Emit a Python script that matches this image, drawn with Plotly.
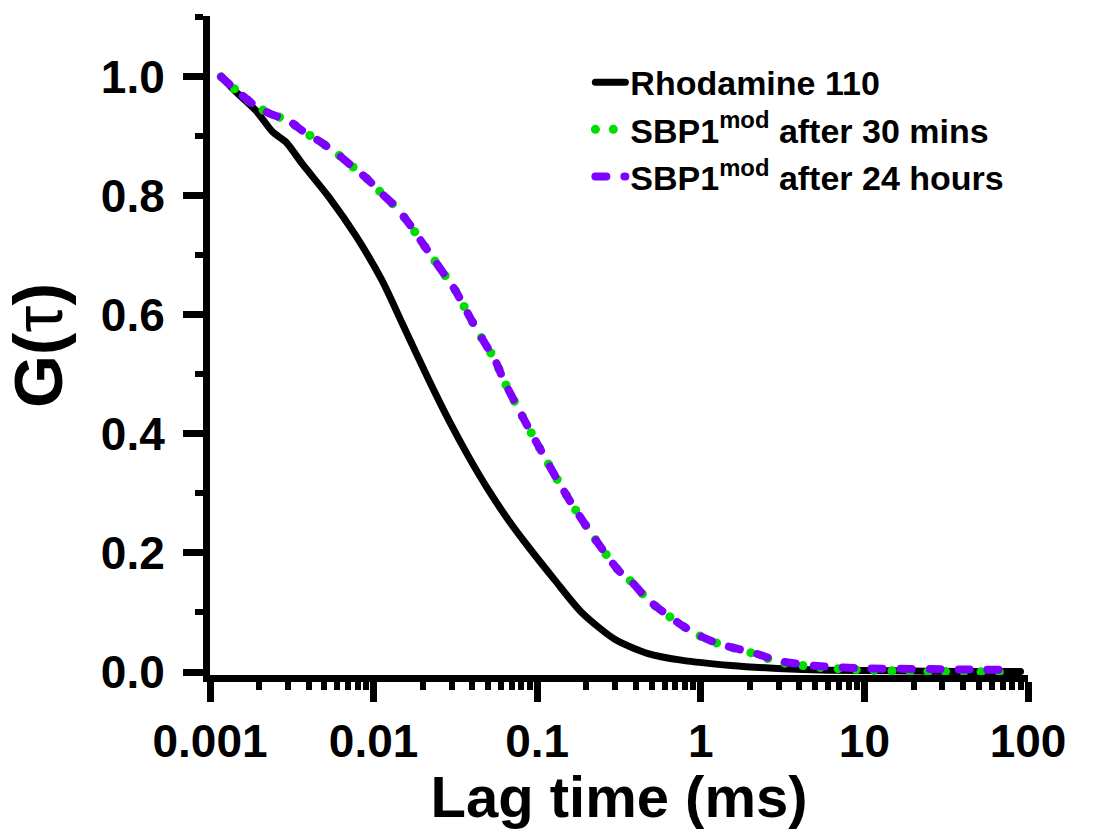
import plotly.graph_objects as go

# ---- data ----
rho_x = [0.00117, 0.00145, 0.00191, 0.00242, 0.00292, 0.00368, 0.00536, 0.00778, 0.0113, 0.0150,
         0.0218, 0.0288, 0.0382, 0.0505, 0.0668, 0.0885, 0.1285, 0.187, 0.298, 0.476, 0.760,
         1.53, 2.95, 6.0, 15.0, 40.0, 90.0]
rho_y = [1.0, 0.974, 0.943, 0.907, 0.890, 0.853, 0.797, 0.733, 0.657, 0.585,
         0.490, 0.423, 0.361, 0.305, 0.255, 0.210, 0.154, 0.100, 0.055, 0.031, 0.020,
         0.011, 0.006, 0.003, 0.002, 0.001, 0.001]

m30_x = [0.00117, 0.00145, 0.00183, 0.00236, 0.00299, 0.00368, 0.00476, 0.00603, 0.00743, 0.00917,
         0.0113, 0.0137, 0.0165, 0.0194, 0.0228, 0.0269, 0.0316, 0.0364, 0.0419, 0.0482,
         0.0555, 0.0624, 0.0806, 0.0927, 0.123, 0.162, 0.225, 0.313, 0.386, 0.476,
         0.760, 1.0, 1.27, 2.23, 2.95, 5.2, 10.4, 26.0, 50.0, 80.0]
m30_y = [1.0, 0.977, 0.954, 0.937, 0.927, 0.909, 0.890, 0.870, 0.849, 0.828,
         0.803, 0.781, 0.753, 0.725, 0.697, 0.669, 0.641, 0.610, 0.579, 0.551,
         0.523, 0.490, 0.431, 0.400, 0.339, 0.283, 0.224, 0.171, 0.149, 0.121,
         0.079, 0.060, 0.048, 0.029, 0.017, 0.008, 0.003, 0.001, 0.0005, 0.0]

h24_x = [0.00117, 0.00145, 0.00183, 0.00236, 0.00299, 0.00368, 0.00476, 0.00603, 0.00743, 0.00917,
         0.0113, 0.0137, 0.0165, 0.0194, 0.0228, 0.0269, 0.0316, 0.0364, 0.0419, 0.0482,
         0.0555, 0.0624, 0.0806, 0.0927, 0.123, 0.162, 0.225, 0.313, 0.386, 0.476,
         0.760, 1.0, 1.27, 2.23, 2.95, 5.2, 10.4, 26.0, 50.0, 80.0]
h24_y = [1.0, 0.977, 0.954, 0.937, 0.927, 0.909, 0.890, 0.870, 0.849, 0.828,
         0.803, 0.781, 0.753, 0.725, 0.697, 0.669, 0.641, 0.610, 0.579, 0.551,
         0.523, 0.490, 0.431, 0.400, 0.339, 0.283, 0.224, 0.171, 0.149, 0.121,
         0.079, 0.060, 0.048, 0.030, 0.019, 0.010, 0.006, 0.005, 0.004, 0.004]

x_tickvals = [0.001, 0.01, 0.1, 1, 10, 100]
x_ticktext = ["0.001", "0.01", "0.1", "1", "10", "100"]
x_minor = [m * 10.0 ** e for e in range(-3, 2) for m in range(2, 10)]
y_tickvals = [0.0, 0.2, 0.4, 0.6, 0.8, 1.0]
y_ticktext = ["0.0", "0.2", "0.4", "0.6", "0.8", "1.0"]
y_minor = [0.1, 0.3, 0.5, 0.7, 0.9, 1.1]

FONT = "Liberation Sans, Arial, sans-serif"

fig = go.Figure()
fig.add_trace(go.Scatter(x=rho_x, y=rho_y, mode="lines", name="Rhodamine 110",
                         line=dict(color="#000000", width=7, shape="spline", smoothing=0.7)))
fig.add_trace(go.Scatter(x=m30_x, y=m30_y, mode="lines", name="SBP1<sup>mod</sup> after 30 mins",
                         line=dict(color="#00dd00", width=9, dash="0.1px,17.8px",
                                   shape="spline", smoothing=0.6)))
fig.add_trace(go.Scatter(x=h24_x, y=h24_y, mode="lines", name="SBP1<sup>mod</sup> after 24 hours",
                         line=dict(color="#8000ff", width=8, dash="11px,18px",
                                   shape="spline", smoothing=0.6)))

axis_common = dict(
    showline=True, linecolor="black", linewidth=7, mirror=False,
    ticks="outside", tickcolor="black", tickwidth=7, ticklen=20,
    showgrid=False, zeroline=False,
    tickfont=dict(family=FONT, size=46, color="black", weight="bold"),
)

fig.update_xaxes(
    type="log", range=[-3, 2],
    tickmode="array", tickvals=x_tickvals, ticktext=x_ticktext,
    minor=dict(tickmode="array", tickvals=x_minor, ticks="outside", ticklen=8,
               tickwidth=6, tickcolor="black", showgrid=False),
    title=dict(text="Lag time (ms)", font=dict(family=FONT, size=58, color="black", weight="bold"),
               standoff=4),
    **axis_common,
)
fig.update_yaxes(
    range=[-0.005, 1.102],
    tickmode="array", tickvals=y_tickvals, ticktext=y_ticktext,
    ticklabelstandoff=9,
    minor=dict(tickmode="array", tickvals=y_minor, ticks="outside", ticklen=8,
               tickwidth=6, tickcolor="black", showgrid=False),
    title=dict(text="\u00a0\u00a0G(<span style='font-weight:normal'>τ</span>)",
               font=dict(family=FONT, size=68, color="black", weight="bold"), standoff=26),
    **axis_common,
)

fig.update_layout(
    width=1105, height=829,
    margin=dict(l=210, r=77, t=16, b=154),
    plot_bgcolor="white", paper_bgcolor="white",
    font=dict(family=FONT, color="black"),
    legend=dict(x=0.465, y=0.943, xanchor="left", yanchor="top",
                font=dict(family=FONT, size=34, color="black", weight="bold"),
                bgcolor="rgba(0,0,0,0)", itemwidth=30, tracegroupgap=0),
)

post = """
document.body.style.margin = '0';
document.body.style.padding = '0';
var els = document.querySelectorAll('.scatterlayer .js-line, .legend .js-line');
els.forEach(function(e){ e.style.strokeLinecap = 'round'; });
"""
fig.write_html("out.html", post_script=post, config={"displayModeBar": False})
